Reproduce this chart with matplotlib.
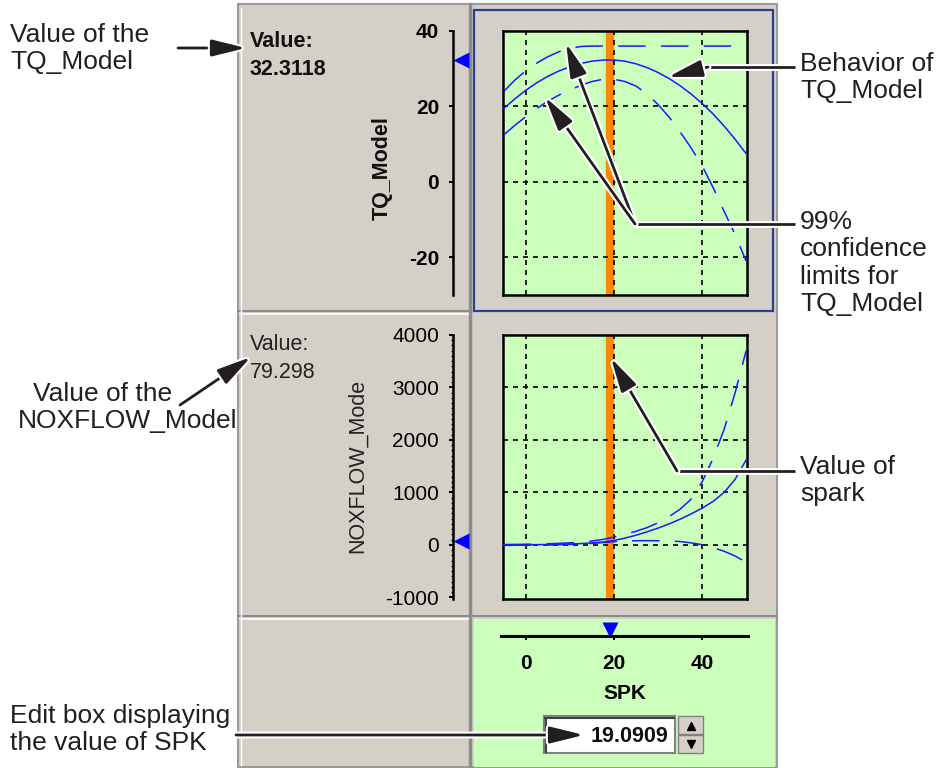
import matplotlib
matplotlib.use("Agg")
import matplotlib.pyplot as plt
from matplotlib.patches import Rectangle
from matplotlib import patheffects as pe

plt.rcParams['font.family'] = ['Liberation Sans', 'DejaVu Sans']
plt.rcParams['axes.unicode_minus'] = False

# spark sweep and model responses
spk = [-5, -2.5, 0, 2.5, 5, 7.5, 10, 12.5, 15, 17.5, 20, 22.5, 25,
       27.5, 30, 32.5, 35, 37.5, 40, 42.5, 45, 47.5, 50]
tq = [19.5, 22, 24.3, 26.3, 28, 29.4, 30.5, 31.4, 32, 32.3, 32.3, 32, 31.3,
      30.3, 29, 27.4, 25.5, 23.3, 20.8, 18, 14.8, 11.3, 7.5]
tq_hi = [24, 27, 29.5, 31.5, 33.2, 34.5, 35.4, 35.9, 36, 36, 36, 36, 36,
         36, 36, 36, 36, 36, 36, 36, 36, 36, 36]
tq_lo = [12.5, 15, 17.3, 19.5, 21.4, 23, 24.4, 25.6, 26.6, 27.2, 27.2, 26.6, 25.4,
         23.3, 20.5, 17.2, 13.3, 9, 4.3, -1.5, -7.8, -14, -21]
nox = [0, 2, 4, 6, 9, 13, 18, 26, 38, 55, 85, 130, 185,
       250, 320, 400, 490, 590, 700, 830, 1000, 1250, 1620]
nox_hi = [8, 10, 13, 17, 22, 30, 40, 55, 75, 105, 150, 200, 260,
          330, 420, 540, 680, 870, 1200, 1650, 2200, 2900, 3700]
nox_lo = [-8, -6, -4, -2, 0, 5, 10, 18, 30, 45, 62, 75, 80,
          82, 80, 75, 65, 40, 5, -50, -120, -210, -330]

spk_value = 19.0909
tq_value = 32.3118
nox_value = 79.298

spk_ticks = [0, 20, 40]
tq_ticks = [-20, 0, 20, 40]
tq_grid = [-20, 0, 20]
nox_ticks = [-1000, 0, 1000, 2000, 3000, 4000]
nox_grid = [0, 1000, 2000, 3000]

gray = '#d4d0c8'
green = '#ccffbb'
orange = '#ff8800'
blue = '#1a1aff'
dark = '#231f20'

W, H = 946, 768
fig = plt.figure(figsize=(W / 100, H / 100), dpi=100)
fig.patch.set_facecolor('white')


def box(x0, y0, x1, y1):
    return [x0 / W, 1 - y1 / H, (x1 - x0) / W, (y1 - y0) / H]


# background panel (pixel coordinates)
bg = fig.add_axes([0, 0, 1, 1], zorder=0)
bg.set_xlim(0, W)
bg.set_ylim(H, 0)
bg.axis('off')

bg.add_patch(Rectangle((238, 4), 539, 763, fc=gray, ec='#9a9a9a', lw=1.5))
bg.add_patch(Rectangle((474, 619), 301, 148, fc=green, ec='none'))
bg.plot([470, 470], [4, 767], color='#8c8c8c', lw=2.5)
for yy in [311, 616]:
    bg.plot([238, 470], [yy, yy], color='#8c8c8c', lw=1.5)
    bg.plot([240, 468], [yy + 2.5, yy + 2.5], color='white', lw=1.2)
bg.plot([472, 777], [616, 616], color='#8c8c8c', lw=1.5)
bg.plot([241, 241], [8, 765], color='white', lw=1)
bg.add_patch(Rectangle((474, 10), 299, 301, fc='none', ec='#2a3f8f', lw=1.6))

# value readouts
bg.text(250, 47, 'Value:', fontsize=15.5, fontweight='bold', color='#111')
bg.text(250, 75, f'{tq_value:.4f}', fontsize=15.5, fontweight='bold', color='#111')
bg.text(250, 350, 'Value:', fontsize=15.5, color='#222')
bg.text(250, 378, f'{nox_value:.3f}', fontsize=15.5, color='#222')

# edit box and spinner
bg.add_patch(Rectangle((544, 716), 131, 37, fc='white', ec='#808080', lw=1.5))
bg.plot([545, 674], [718, 718], color='#404040', lw=1.5)
bg.plot([546, 546], [718, 752], color='#404040', lw=1.5)
bg.text(668, 736, f'{spk_value:.4f}', fontsize=15.5, fontweight='bold',
        ha='right', va='center', color='#111')
bg.add_patch(Rectangle((678, 716), 25, 18, fc=gray, ec='#808080', lw=1))
bg.add_patch(Rectangle((678, 735), 25, 18, fc=gray, ec='#808080', lw=1))
bg.plot([690.5], [726], marker='^', color='k', ms=6)
bg.plot([690.5], [744], marker='v', color='k', ms=6)

bg.text(382, 168, 'TQ_Model', rotation=90, ha='center', va='center',
        fontsize=15.5, fontweight='bold', color='#111')
bg.text(357, 466, 'NOXFLOW_Mode', rotation=90, ha='center', va='center',
        fontsize=15.5, color='#222')


def scale_axis(rect, ylim, ticks, bold, minor=None):
    ax = fig.add_axes(rect, zorder=2)
    ax.set_xlim(0, 1)
    ax.set_ylim(ylim)
    ax.patch.set_visible(False)
    for s in ['top', 'right', 'bottom']:
        ax.spines[s].set_visible(False)
    ax.spines['left'].set_linewidth(1.8)
    ax.set_xticks([])
    ax.set_yticks(ticks, [str(t) for t in ticks],
                  fontweight='bold' if bold else 'normal', fontsize=15)
    ax.tick_params(axis='y', length=3, width=1.5, pad=7)
    if minor is not None:
        ax.set_yticks(minor, minor=True)
        ax.tick_params(axis='y', which='minor', length=1.8, width=1)
    return ax


def model_axes(rect, ylim, ygrid):
    ax = fig.add_axes(rect, zorder=2)
    ax.set_facecolor(green)
    ax.set_xlim(-5.2, 50.2)
    ax.set_ylim(ylim)
    ax.set_xticks(spk_ticks)
    ax.set_yticks(ygrid)
    ax.tick_params(length=0, labelleft=False, labelbottom=False)
    ax.grid(True, color='k', ls=(0, (3, 3)), lw=1.2)
    ax.set_axisbelow(False)
    for s in ax.spines.values():
        s.set_linewidth(1.8)
    ax.axvline(spk_value, color=orange, lw=6, zorder=1)
    return ax


# TQ_Model row
tq_scale = scale_axis(box(453, 31, 466, 295), (-30, 40), tq_ticks, True)
tq_scale.plot([0.62], [tq_value], marker='<', color='#0000ff', ms=12,
              mec='none', clip_on=False)
ax1 = model_axes(box(503, 31, 747, 295), (-30, 40), tq_grid)
ax1.plot(spk, tq, color=blue, lw=1.1, zorder=3)
ax1.plot(spk, tq_hi, color=blue, lw=1.1, ls=(0, (18, 10)), zorder=3)
ax1.plot(spk, tq_lo, color=blue, lw=1.1, ls=(0, (18, 10)), zorder=3)

# NOXFLOW_Model row
nox_scale = scale_axis(box(453, 335, 466, 599), (-1030, 4000), nox_ticks, False,
                       minor=list(range(-1000, 4001, 100)))
nox_scale.plot([0.62], [nox_value], marker='<', color='#0000ff', ms=12,
               mec='none', clip_on=False)
ax2 = model_axes(box(503, 335, 747, 599), (-1030, 4000), nox_grid)
ax2.plot(spk, nox, color=blue, lw=1.1, zorder=3)
ax2.plot(spk, nox_hi, color=blue, lw=1.1, ls=(0, (18, 10)), zorder=3)
ax2.plot(spk, nox_lo, color=blue, lw=1.1, ls=(0, (18, 10)), zorder=3)

# SPK slider
sl = fig.add_axes(box(501, 610, 748, 636), zorder=2)
sl.patch.set_visible(False)
for s in ['top', 'left', 'right']:
    sl.spines[s].set_visible(False)
sl.spines['bottom'].set_linewidth(2.2)
sl.set_xlim(-5.68, 50.45)
sl.set_ylim(0, 1)
sl.set_yticks([])
sl.set_xticks(spk_ticks, [str(t) for t in spk_ticks], fontweight='bold', fontsize=15)
sl.tick_params(axis='x', length=3, width=1.4, pad=10)
sl.set_xlabel('SPK', fontweight='bold', fontsize=15, labelpad=8)
sl.plot([spk_value], [0.22], marker='v', color='#0000ff', ms=11, mec='none',
        clip_on=False)

# callouts
ov = fig.add_axes([0, 0, 1, 1], zorder=10)
ov.set_xlim(0, W)
ov.set_ylim(H, 0)
ov.axis('off')

halo = [pe.withStroke(linewidth=5, foreground='white')]
aprops = dict(arrowstyle='-|>,head_length=1.3,head_width=0.32', color=dark,
              lw=2, mutation_scale=16, shrinkA=0, shrinkB=0, path_effects=halo)


def arrow(start, tip):
    ov.annotate('', xy=tip, xytext=start, arrowprops=aprops)


def leader(pts):
    xs, ys = zip(*pts)
    ov.plot(xs, ys, color=dark, lw=2, path_effects=halo, solid_capstyle='butt')


def note(x, y, lines, step=27.3):
    for i, line in enumerate(lines):
        ov.text(x, y + i * step, line, fontsize=19, color=dark, va='baseline')


note(10, 42, ['Value of the', 'TQ_Model'])
arrow((178, 48), (246, 48))

note(33, 401, ['Value of the'])
note(18, 428, ['NOXFLOW_Model'])
arrow((180, 405), (251, 357))

note(10, 723, ['Edit box displaying', 'the value of SPK'])
arrow((236, 735), (584, 735))

note(800, 71, ['Behavior of', 'TQ_Model'])
leader([(795, 67), (708, 67)])
arrow((708, 67), (668, 77))

note(800, 229, ['99%', 'confidence', 'limits for', 'TQ_Model'])
leader([(795, 224), (635, 224)])
arrow((635, 224), (566, 43))
arrow((635, 224), (545, 97))

note(800, 474, ['Value of', 'spark'])
leader([(795, 471), (677, 471)])
arrow((677, 471), (611, 358))

fig.savefig('out.png', dpi=100)
